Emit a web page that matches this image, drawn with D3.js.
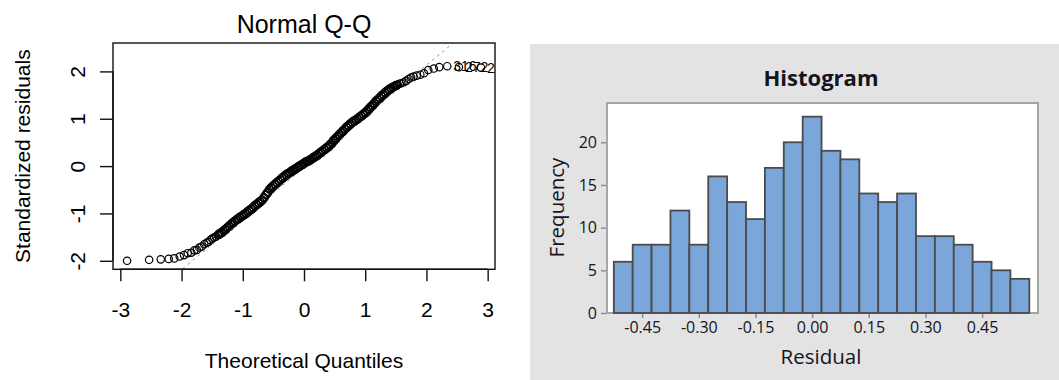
<!DOCTYPE html>
<html>
<head>
<meta charset="utf-8">
<script src="https://cdn.jsdelivr.net/npm/d3@7"></script>
<style>
  body { margin: 0; background: #fff; }
  svg { display: block; }
</style>
</head>
<body>
<div id="root"></div>
<script>
// ---- data: Normal Q-Q (theoretical quantile, standardized residual) ----
const qqTheoretical = [
  -2.89, -2.53, -2.34, -2.21, -2.12, -2.03, -1.96, -1.90, -1.84, -1.79,
  -1.75, -1.71, -1.67, -1.63, -1.59, -1.56, -1.53, -1.50, -1.47, -1.44,
  -1.410, -1.395, -1.380, -1.365, -1.350, -1.335, -1.320, -1.305,
  -1.290, -1.275, -1.260, -1.245, -1.230, -1.215, -1.200, -1.185,
  -1.170, -1.155, -1.140, -1.125, -1.110, -1.095, -1.080, -1.065,
  -1.050, -1.035, -1.020, -1.005, -0.990, -0.975, -0.960, -0.945,
  -0.930, -0.915, -0.900, -0.885, -0.870, -0.855, -0.840, -0.825,
  -0.810, -0.795, -0.780, -0.765, -0.750, -0.735, -0.720, -0.705,
  -0.690, -0.675, -0.660, -0.645, -0.630, -0.615, -0.600, -0.585,
  -0.570, -0.555, -0.540, -0.525, -0.510, -0.495, -0.480, -0.465,
  -0.450, -0.435, -0.420, -0.405, -0.390, -0.375, -0.360, -0.345,
  -0.330, -0.315, -0.300, -0.285, -0.270, -0.255, -0.240, -0.225,
  -0.210, -0.195, -0.180, -0.165, -0.150, -0.135, -0.120, -0.105,
  -0.090, -0.075, -0.060, -0.045, -0.030, -0.015, 0.000, 0.015,
  0.030, 0.045, 0.060, 0.075, 0.090, 0.105, 0.120, 0.135,
  0.150, 0.165, 0.180, 0.195, 0.210, 0.225, 0.240, 0.255,
  0.270, 0.285, 0.300, 0.315, 0.330, 0.345, 0.360, 0.375,
  0.390, 0.405, 0.420, 0.435, 0.450, 0.465, 0.480, 0.495,
  0.510, 0.525, 0.540, 0.555, 0.570, 0.585, 0.600, 0.615,
  0.630, 0.645, 0.660, 0.675, 0.690, 0.705, 0.720, 0.735,
  0.750, 0.765, 0.780, 0.795, 0.810, 0.825, 0.840, 0.855,
  0.870, 0.885, 0.900, 0.915, 0.930, 0.945, 0.960, 0.975,
  0.990, 1.005, 1.020, 1.035, 1.050, 1.065, 1.080, 1.095,
  1.110, 1.125, 1.140, 1.155, 1.170, 1.185, 1.200, 1.215,
  1.230, 1.245, 1.260, 1.275, 1.290, 1.305, 1.320, 1.335,
  1.350, 1.365, 1.380, 1.395, 1.410, 1.425, 1.440, 1.455,
  1.470, 1.485, 1.500, 1.515,
  1.53, 1.56, 1.59, 1.63, 1.67, 1.71, 1.75, 1.79, 1.84, 1.90,
  1.96, 2.03, 2.12, 2.21, 2.34, 2.53, 2.89
];
const qqResidual = [
  -2.00, -1.98, -1.97, -1.96, -1.95, -1.91, -1.88, -1.84, -1.83, -1.78,
  -1.77, -1.72, -1.70, -1.65, -1.62, -1.60, -1.56, -1.53, -1.51, -1.49,
  -1.46, -1.43, -1.45, -1.41, -1.40, -1.41, -1.36, -1.37,
  -1.33, -1.35, -1.30, -1.29, -1.26, -1.28, -1.23, -1.22,
  -1.19, -1.21, -1.16, -1.17, -1.13, -1.14, -1.10, -1.12,
  -1.07, -1.09, -1.05, -1.06, -1.02, -1.04, -0.99, -1.01,
  -0.96, -0.98, -0.93, -0.95, -0.90, -0.92, -0.87, -0.89,
  -0.83, -0.85, -0.80, -0.82, -0.77, -0.79, -0.74, -0.76,
  -0.71, -0.72, -0.66, -0.67, -0.60, -0.61, -0.55, -0.56,
  -0.49, -0.50, -0.45, -0.47, -0.41, -0.43, -0.38, -0.39,
  -0.34, -0.36, -0.31, -0.33, -0.28, -0.29, -0.24, -0.26,
  -0.21, -0.23, -0.18, -0.20, -0.15, -0.17, -0.13, -0.14,
  -0.10, -0.12, -0.08, -0.09, -0.05, -0.07, -0.03, -0.04,
  0.00, -0.02, 0.02, 0.01, 0.05, 0.03, 0.07, 0.06,
  0.10, 0.08, 0.11, 0.10, 0.14, 0.12, 0.16, 0.15,
  0.19, 0.17, 0.21, 0.20, 0.24, 0.22, 0.27, 0.26,
  0.30, 0.28, 0.33, 0.32, 0.36, 0.34, 0.39, 0.38,
  0.42, 0.40, 0.46, 0.44, 0.50, 0.48, 0.55, 0.53,
  0.59, 0.57, 0.63, 0.62, 0.67, 0.65, 0.71, 0.70,
  0.75, 0.73, 0.79, 0.78, 0.83, 0.81, 0.86, 0.85,
  0.90, 0.88, 0.93, 0.92, 0.96, 0.94, 0.98, 0.97,
  1.01, 0.99, 1.04, 1.03, 1.07, 1.05, 1.10, 1.09,
  1.13, 1.11, 1.17, 1.15, 1.21, 1.19, 1.25, 1.24,
  1.29, 1.27, 1.33, 1.32, 1.38, 1.36, 1.41, 1.40,
  1.45, 1.43, 1.49, 1.47, 1.52, 1.50, 1.56, 1.54,
  1.59, 1.57, 1.62, 1.61, 1.65, 1.63, 1.67, 1.66,
  1.69, 1.68, 1.71, 1.70,
  1.72, 1.74, 1.75, 1.77, 1.80, 1.84, 1.87, 1.89, 1.91, 1.93,
  1.96, 2.03, 2.06, 2.09, 2.11, 2.09, 2.08
];
// ids of the three most extreme residuals (last three points)
const qqLabels = ["316", "272", "2"];
const qqLineIntercept = -0.03;
const qqLineSlope = 1.08;
const qqXTicks = [-3, -2, -1, 0, 1, 2, 3];
const qqYTicks = [-2, -1, 0, 1, 2];

// ---- data: Histogram of residuals ----
const histCenters = [-0.50, -0.45, -0.40, -0.35, -0.30, -0.25, -0.20, -0.15, -0.10, -0.05, 0.00,
                     0.05, 0.10, 0.15, 0.20, 0.25, 0.30, 0.35, 0.40, 0.45, 0.50, 0.55];
const histCounts = [6, 8, 8, 12, 8, 16, 13, 11, 17, 20, 23, 19, 18, 14, 13, 14, 9, 9, 8, 6, 5, 4];
const histBinWidth = 0.05;
const histXTicks = [-0.45, -0.30, -0.15, 0.00, 0.15, 0.30, 0.45];
const histYTicks = [0, 5, 10, 15, 20];

const width = 1059, height = 380;

const svg = d3.select("#root").append("svg")
  .attr("width", width)
  .attr("height", height);

// ===================== Normal Q-Q (left) =====================
const rFont = "'Liberation Sans', Arial, sans-serif";
const qq = { left: 113, right: 495, top: 43, bottom: 269.3 };

const xQ = d3.scaleLinear().domain([-3.12, 3.12]).range([qq.left, qq.right]);
const yQ = d3.scaleLinear().domain([-2.18, 2.60]).range([qq.bottom, qq.top]);

const gQ = svg.append("g").attr("font-family", rFont).attr("fill", "#000");

svg.append("clipPath").attr("id", "qqclip")
  .append("rect")
  .attr("x", qq.left).attr("y", qq.top)
  .attr("width", qq.right - qq.left).attr("height", qq.bottom - qq.top);

// reference line
gQ.append("line")
  .attr("clip-path", "url(#qqclip)")
  .attr("x1", xQ(-3.12)).attr("y1", yQ(qqLineIntercept + qqLineSlope * -3.12))
  .attr("x2", xQ(3.12)).attr("y2", yQ(qqLineIntercept + qqLineSlope * 3.12))
  .attr("stroke", "#8a8a8a")
  .attr("stroke-width", 1)
  .attr("stroke-dasharray", "2.5,4");

// points
gQ.append("g")
  .selectAll("circle")
  .data(qqTheoretical)
  .enter().append("circle")
    .attr("cx", d => xQ(d))
    .attr("cy", (d, i) => yQ(qqResidual[i]))
    .attr("r", 3.7)
    .attr("fill", "none")
    .attr("stroke", "#000")
    .attr("stroke-width", 1.2);

// point ids
const nQ = qqTheoretical.length;
gQ.append("g")
  .selectAll("text")
  .data(qqLabels)
  .enter().append("text")
    .attr("x", (d, i) => xQ(qqTheoretical[nQ - 3 + i]) + 6)
    .attr("y", (d, i) => yQ(qqResidual[nQ - 3 + i]))
    .attr("dy", "0.36em")
    .attr("font-size", 14)
    .text(d => d);

// box
gQ.append("rect")
  .attr("x", qq.left).attr("y", qq.top)
  .attr("width", qq.right - qq.left).attr("height", qq.bottom - qq.top)
  .attr("fill", "none")
  .attr("stroke", "#111")
  .attr("stroke-width", 1.4);

// axes
const axQx = gQ.append("g")
  .attr("transform", `translate(0,${qq.bottom})`)
  .call(d3.axisBottom(xQ).tickValues(qqXTicks).tickSize(12).tickSizeOuter(0).tickFormat(d => String(d)));
axQx.select(".domain").remove();
axQx.append("line")
  .attr("x1", xQ(-3)).attr("x2", xQ(3))
  .attr("stroke", "#111").attr("stroke-width", 1.4);
axQx.selectAll(".tick line").attr("stroke", "#111").attr("stroke-width", 1.4);
axQx.selectAll(".tick text")
  .attr("y", 48).attr("dy", null)
  .attr("font-size", 21).attr("font-family", rFont).attr("fill", "#000");

const axQy = gQ.append("g")
  .attr("transform", `translate(${qq.left},0)`)
  .call(d3.axisLeft(yQ).tickValues(qqYTicks).tickSize(13).tickSizeOuter(0).tickFormat(d => String(d)));
axQy.select(".domain").remove();
axQy.append("line")
  .attr("y1", yQ(-2)).attr("y2", yQ(2))
  .attr("stroke", "#111").attr("stroke-width", 1.4);
axQy.selectAll(".tick line").attr("stroke", "#111").attr("stroke-width", 1.4);
axQy.selectAll(".tick text")
  .attr("x", null).attr("dy", null)
  .attr("transform", "translate(-28,0) rotate(-90)")
  .attr("text-anchor", "middle")
  .attr("font-size", 21).attr("font-family", rFont).attr("fill", "#000");

// titles
gQ.append("text")
  .attr("x", (qq.left + qq.right) / 2).attr("y", 32.5)
  .attr("text-anchor", "middle")
  .attr("font-size", 25)
  .text("Normal Q-Q");

gQ.append("text")
  .attr("x", (qq.left + qq.right) / 2).attr("y", 368)
  .attr("text-anchor", "middle")
  .attr("font-size", 21)
  .text("Theoretical Quantiles");

gQ.append("text")
  .attr("transform", `translate(29.5,${(qq.top + qq.bottom) / 2}) rotate(-90)`)
  .attr("text-anchor", "middle")
  .attr("font-size", 21)
  .text("Standardized residuals");

// ===================== Histogram (right) =====================
const mFont = "'Open Sans', 'Noto Sans', sans-serif";
const txt = "#14141f";
const hs = { left: 607, right: 1038, top: 103, bottom: 313 };

svg.append("rect")
  .attr("x", 530).attr("y", 44)
  .attr("width", width - 530).attr("height", height - 44)
  .attr("fill", "#e3e3e3");

svg.append("rect")
  .attr("x", hs.left).attr("y", hs.top)
  .attr("width", hs.right - hs.left).attr("height", hs.bottom - hs.top)
  .attr("fill", "#fff")
  .attr("stroke", "#a6a6a6")
  .attr("stroke-width", 2);

const xH = d3.scaleLinear().domain([-0.543, 0.598]).range([hs.left, hs.right]);
const yH = d3.scaleLinear().domain([0, 24.6]).range([hs.bottom, hs.top]);

const gH = svg.append("g").attr("font-family", mFont);

gH.append("g")
  .selectAll("rect")
  .data(histCounts)
  .enter().append("rect")
    .attr("x", (d, i) => xH(histCenters[i] - histBinWidth / 2))
    .attr("y", d => yH(d))
    .attr("width", (d, i) => xH(histCenters[i] + histBinWidth / 2) - xH(histCenters[i] - histBinWidth / 2))
    .attr("height", d => yH(0) - yH(d))
    .attr("fill", "#7ba6d9")
    .attr("stroke", "#4b4b4b")
    .attr("stroke-width", 1.8);

const axHx = gH.append("g")
  .attr("transform", `translate(0,${hs.bottom + 1})`)
  .call(d3.axisBottom(xH).tickValues(histXTicks).tickSize(4).tickSizeOuter(0).tickFormat(d => d.toFixed(2)));
axHx.select(".domain").remove();
axHx.selectAll(".tick line").attr("stroke", "#8c8c8c").attr("stroke-width", 1.5);
axHx.selectAll(".tick text")
  .attr("y", 18.5).attr("dy", null)
  .attr("font-size", 16).attr("font-family", mFont).attr("fill", txt);

const axHy = gH.append("g")
  .attr("transform", `translate(${hs.left - 1},0)`)
  .call(d3.axisLeft(yH).tickValues(histYTicks).tickSize(5).tickSizeOuter(0));
axHy.select(".domain").remove();
axHy.selectAll(".tick line").attr("stroke", "#8c8c8c").attr("stroke-width", 1.5);
axHy.selectAll(".tick text")
  .attr("x", -9)
  .attr("font-size", 16).attr("font-family", mFont).attr("fill", txt);

gH.append("text")
  .attr("x", 821).attr("y", 86)
  .attr("text-anchor", "middle")
  .attr("font-size", 22)
  .attr("font-weight", "bold")
  .attr("fill", txt)
  .text("Histogram");

gH.append("text")
  .attr("x", 821).attr("y", 364)
  .attr("text-anchor", "middle")
  .attr("font-size", 20.5)
  .attr("fill", txt)
  .text("Residual");

gH.append("text")
  .attr("transform", `translate(564,207.5) rotate(-90)`)
  .attr("text-anchor", "middle")
  .attr("font-size", 20.5)
  .attr("fill", txt)
  .text("Frequency");
</script>
</body>
</html>
